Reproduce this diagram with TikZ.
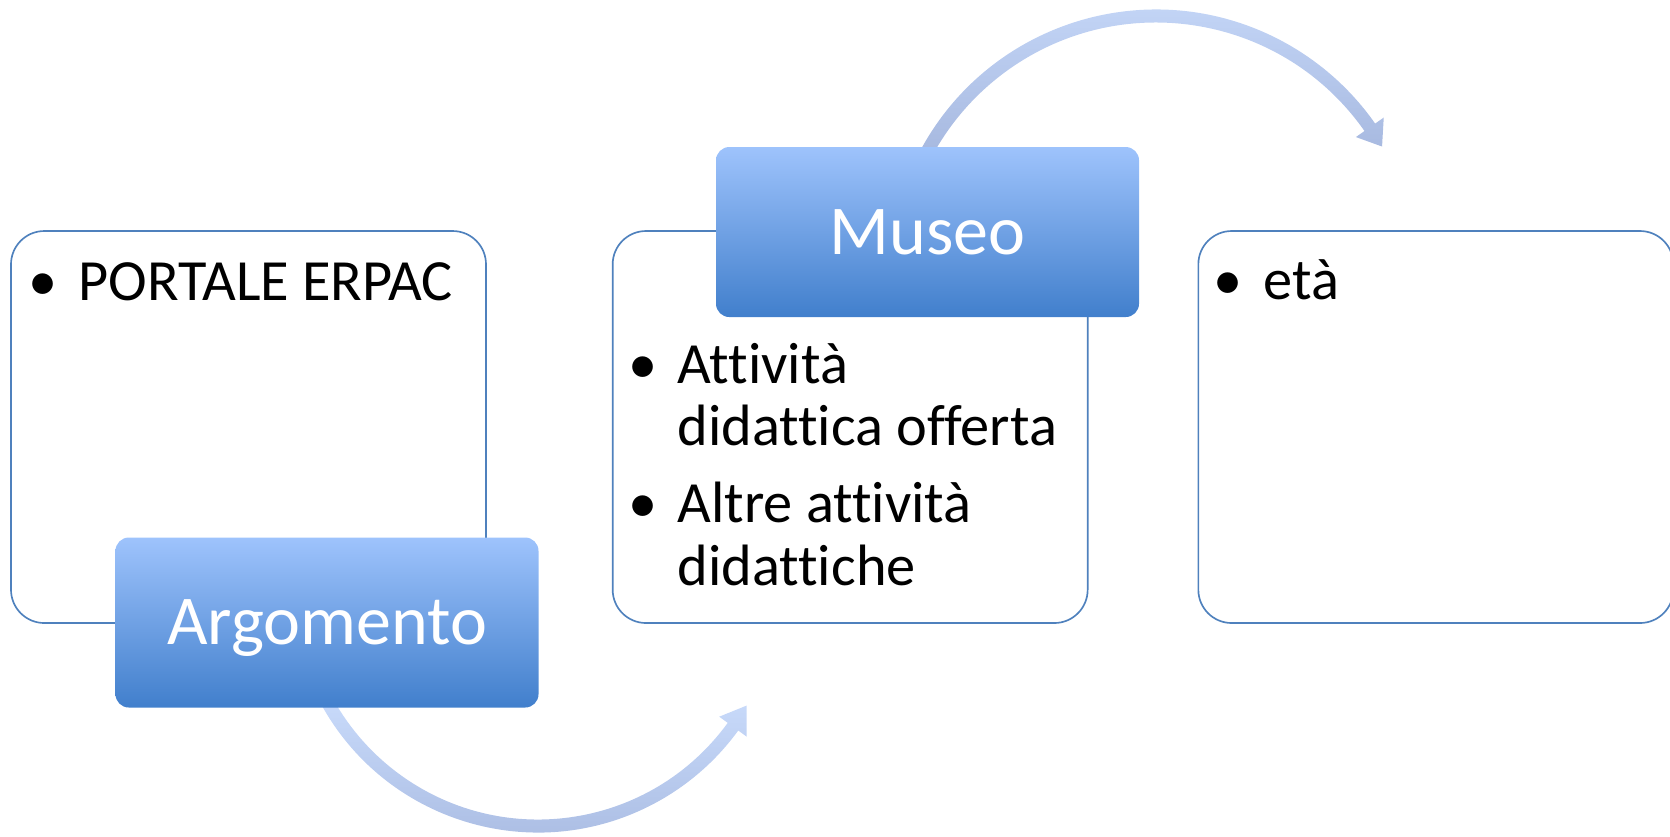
\documentclass[tikz,border=0pt]{standalone}
\usepackage{fontspec}
\setmainfont{Carlito}[Ligatures={NoCommon}]
\usetikzlibrary{positioning}

\definecolor{edge}{RGB}{79,129,189}
\definecolor{titletop}{RGB}{158,195,252}
\definecolor{titlebot}{RGB}{65,127,204}
\definecolor{arrowtop}{RGB}{201,219,251}
\definecolor{arrowbot}{RGB}{166,184,223}

\begin{document}
\begin{tikzpicture}[x=0.3pt, y=-0.3pt,
    panel/.style = {draw=edge, line width=0.5pt, rounded corners=10pt, minimum width=142.5pt, minimum height=117.6pt, inner sep=0pt},
    title/.style = {rounded corners=4pt, top color=titletop, bottom color=titlebot, text=white, font=\fontsize{21}{25}\selectfont, minimum width=126.9pt, minimum height=51pt, text height=13.4pt, text depth=0pt, inner sep=0pt},
    bul/.style = {font=\fontsize{17.5}{21}\selectfont, anchor=base, inner sep=0pt},
    item/.style = {font=\fontsize{17.5}{21}\selectfont, anchor=base west, inner sep=0pt},
    arrow/.style = {top color=arrowtop, bottom color=arrowbot}]
    \useasboundingbox (0,0) rectangle (1670,836);

    \node[panel] (1) at (248.5,427) {};
    \node[panel] (2) [right=37.5pt of 1] {};
    \node[panel] (3) [right=32.7pt of 2] {};

    % arcs behind the titles
    \coordinate (c1) at (538,585);
    \coordinate (c2) at (1156,277);
    \shade[arrow] ([shift={(152:247.5)}]c1) arc[start angle=152, end angle=36, radius=247.5]
        -- ([shift={(36:258)}]c1) -- ([shift={(30:241)}]c1) -- ([shift={(36:224)}]c1)
        -- ([shift={(36:234.5)}]c1) arc[start angle=36, end angle=152, radius=234.5] -- cycle;
    \shade[arrow] ([shift={(208:267.5)}]c2) arc[start angle=208, end angle=325, radius=267.5]
        -- ([shift={(325:278)}]c2) -- ([shift={(330:261)}]c2) -- ([shift={(325:244)}]c2)
        -- ([shift={(325:254.5)}]c2) arc[start angle=325, end angle=208, radius=254.5] -- cycle;

    \node[title] (arg) at (327,622.5) {Argomento};
    \node[title] (mus) at (927.5,232) {Museo};

    \node[bul] (b1) at (43,300) {\textbullet};
    \node[item] (t1) at (78,300) {PORTALE ERPAC};
    \node[bul] (b2) at (643,383) {\textbullet};
    \node[item] (t2) at (677,383) {Attività};
    \node[item] (t3) at (677,445) {didattica offerta};
    \node[bul] (b3) at (643,522) {\textbullet};
    \node[item] (t4) at (677,522) {Altre attività};
    \node[item] (t5) at (677,585) {didattiche};
    \node[bul] (b4) at (1228,299) {\textbullet};
    \node[item] (t6) at (1263,299) {età};
\end{tikzpicture}
\end{document}
